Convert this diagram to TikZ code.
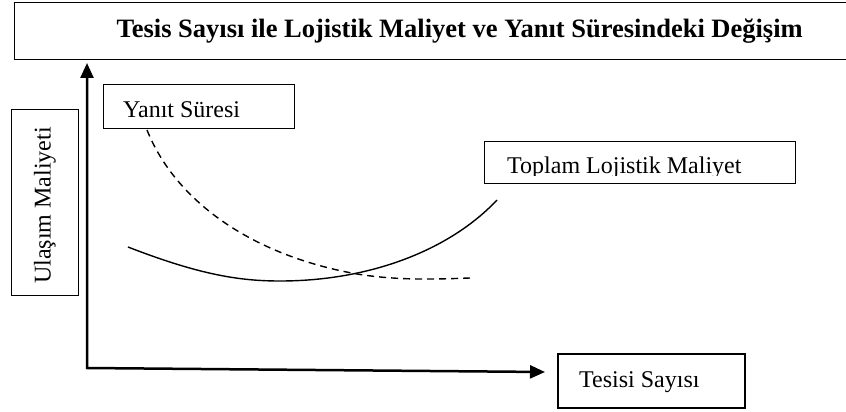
\documentclass[tikz,border=0pt]{standalone}
\usepackage{fontspec}
\setmainfont{Liberation Serif}
\usetikzlibrary{arrows.meta}
\begin{document}
\begin{tikzpicture}[x=1pt,y=-1pt,
  labelbox/.style={draw=black,line width=1pt,inner sep=0pt},
  labeltext/.style={font=\fontsize{24}{27}\selectfont,inner sep=0pt,anchor=base west},
  axis/.style={line width=2.5pt,{Triangle[length=15pt,width=13pt]}-{Triangle[length=15pt,width=13pt]}},
  curve/.style={line width=1.4pt,line join=round}]
\useasboundingbox (0,0) rectangle (846,412);
\clip (0,0) rectangle (846,412);

% title banner, running off the right edge
\node[draw=black,line width=1.3pt,minimum width=890pt,minimum height=57pt,anchor=north west,
      font=\fontsize{26.5}{30}\selectfont\bfseries,inner sep=0pt] (title) at (14,2)
  {Tesis Sayısı ile Lojistik Maliyet ve Yanıt Süresindeki Değişim};

% axes
\coordinate (ytip) at (87,63);
\coordinate (origin) at (87,368);
\coordinate (xtip) at (545,372);
\draw[axis] (ytip) -- (origin) -- (xtip);

% axis labels
\draw[labelbox] (11,109) rectangle (78,295);
\node[rotate=90,font=\fontsize{24}{27}\selectfont,inner sep=0pt] (ylabel) at (45,205.5) {Ulaşım Maliyeti};

\draw[labelbox,line width=1.3pt] (558,354) rectangle (745,408);
\node[labeltext] (xlabel) at (579,387) {Tesisi Sayısı};

% curve labels
\draw[labelbox] (103,84) rectangle (294,128);
\node[labeltext] (yanit) at (123,117) {Yanıt Süresi};

\draw[labelbox] (484,141) rectangle (795,183);
\begin{scope}
  % the label's descenders are cut off a little below the baseline
  \clip (484,141) rectangle (795,175);
  \node[labeltext] (toplam) at (507,173) {Toplam Lojistik Maliyet};
\end{scope}

% total logistics cost
\draw[curve] (128,247) .. controls (200,275) and (240,281) .. (280,281)
  .. controls (370,281) and (450,250) .. (497,200);

% response time
\draw[curve,dashed,dash pattern=on 7pt off 5pt] (147,130) .. controls (175,200) and (250,255) .. (357,274)
  .. controls (400,281) and (440,279) .. (470,278);
\end{tikzpicture}
\end{document}
